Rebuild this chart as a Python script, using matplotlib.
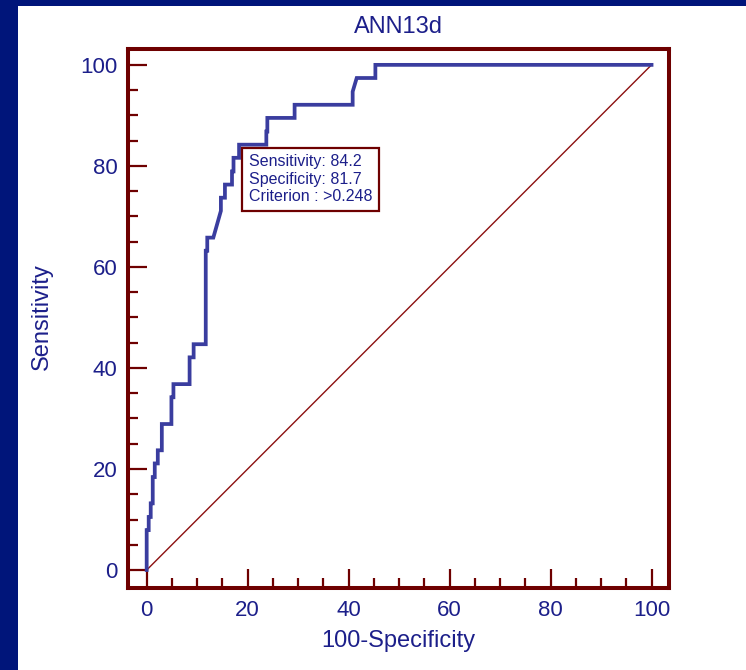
import matplotlib
matplotlib.use("Agg")
import matplotlib.pyplot as plt
from matplotlib.patches import Rectangle
from matplotlib.ticker import MultipleLocator

# ROC curve operating points (100-Specificity, Sensitivity), in percent
fpr = [0, 0, 0.4, 0.4, 0.8, 0.8, 1.2, 1.2, 1.6, 1.6, 2.2, 2.2, 3.0, 3.0,
       4.9, 4.9, 5.3, 5.3, 8.5, 8.5, 9.3, 9.3, 11.7, 11.7, 12.0, 12.0,
       13.2, 14.7, 14.7, 15.5, 15.5, 16.9, 16.9, 17.2, 17.2, 18.3, 18.3,
       23.7, 23.7, 23.9, 23.9, 29.3, 29.3, 40.8, 40.8, 41.6, 45.3, 45.3, 100]
tpr = [0, 7.9, 7.9, 10.5, 10.5, 13.2, 13.2, 18.4, 18.4, 21.1, 21.1, 23.7,
       23.7, 28.9, 28.9, 34.2, 34.2, 36.8, 36.8, 42.1, 42.1, 44.7, 44.7,
       63.2, 63.2, 65.8, 65.8, 71.1, 73.7, 73.7, 76.3, 76.3, 78.9, 78.9,
       81.6, 81.6, 84.2, 84.2, 86.8, 86.8, 89.5, 89.5, 92.1, 92.1, 94.7,
       97.4, 97.4, 100, 100]

# Optimal criterion
crit_sens = 84.2
crit_spec = 81.7
crit_label = ">0.248"

title = "ANN13d"
xlabel = "100-Specificity"
ylabel = "Sensitivity"
major_ticks = [0, 20, 40, 60, 80, 100]

NAVY = "#1c1f8a"
CURVE = "#3a3d9f"
DARKRED = "#6e0000"
DIAG = "#8c1010"
FRAME = "#00157a"

plt.rcParams["font.family"] = ["Liberation Sans", "DejaVu Sans"]

fig = plt.figure(figsize=(7.46, 6.70), dpi=100)
W, H = 746, 670

# Presentation frame: band on the left and along the top
fig.patches.append(Rectangle((0, 0), 18 / W, 1, transform=fig.transFigure,
                             facecolor=FRAME, edgecolor="none", zorder=-10))
fig.patches.append(Rectangle((0, 1 - 6 / H), 1, 6 / H, transform=fig.transFigure,
                             facecolor=FRAME, edgecolor="none", zorder=-10))

left, right = 128 / W, 668.7 / W
top, bottom = 1 - 48.7 / H, 1 - 588 / H
ax = fig.add_axes([left, bottom, right - left, top - bottom])

ax.set_xlim(-3.7, 103.4)
ax.set_ylim(-3.56, 103.2)

# Reference diagonal and ROC curve
ax.plot([0, 100], [0, 100], color=DIAG, lw=1.0, zorder=2)
ax.plot(fpr, tpr, color=CURVE, lw=2.7, solid_joinstyle="miter", zorder=3)

for s in ax.spines.values():
    s.set_color(DARKRED)
    s.set_linewidth(2.9)

ax.set_xticks(major_ticks)
ax.set_yticks(major_ticks)
ax.xaxis.set_minor_locator(MultipleLocator(5))
ax.yaxis.set_minor_locator(MultipleLocator(5))
ax.tick_params(which="both", direction="in", color=DARKRED, width=1.6,
               labelcolor=NAVY, labelsize=16)
ax.tick_params(which="major", length=13.5)
ax.tick_params(which="minor", length=7)
ax.tick_params(axis="y", which="major", pad=7.5)
ax.tick_params(axis="x", which="major", pad=9)
ax.tick_params(top=False, right=False, which="both")

ax.set_xlabel(xlabel, color=NAVY, fontsize=17, va="center")
ax.set_ylabel(ylabel, color=NAVY, fontsize=17, va="center")
ax.xaxis.set_label_coords(0.5, (588 - 641) / 539.3)
ax.yaxis.set_label_coords((42 - 128) / 540.7, (588 - 317) / 539.3)

ax.text(0.5, 1 + (48.7 - 26.7) / 539.3, title, transform=ax.transAxes,
        ha="center", va="center", color=NAVY, fontsize=17)

# Criterion annotation box anchored at the optimal point
crit_fpr = 100 - crit_spec
box_text = (f"Sensitivity: {crit_sens:.1f}\n"
            f"Specificity: {crit_spec:.1f}\n"
            f"Criterion : {crit_label}")
ax.annotate(box_text, xy=(crit_fpr, crit_sens), xytext=(6.8, -6.9),
            textcoords="offset points", ha="left", va="top",
            color=NAVY, fontsize=11.5, linespacing=1.2, zorder=5,
            bbox=dict(boxstyle="square,pad=0.42", facecolor="white",
                      edgecolor=DARKRED, linewidth=1.6))

fig.savefig("out.png", dpi=100, facecolor="white")
